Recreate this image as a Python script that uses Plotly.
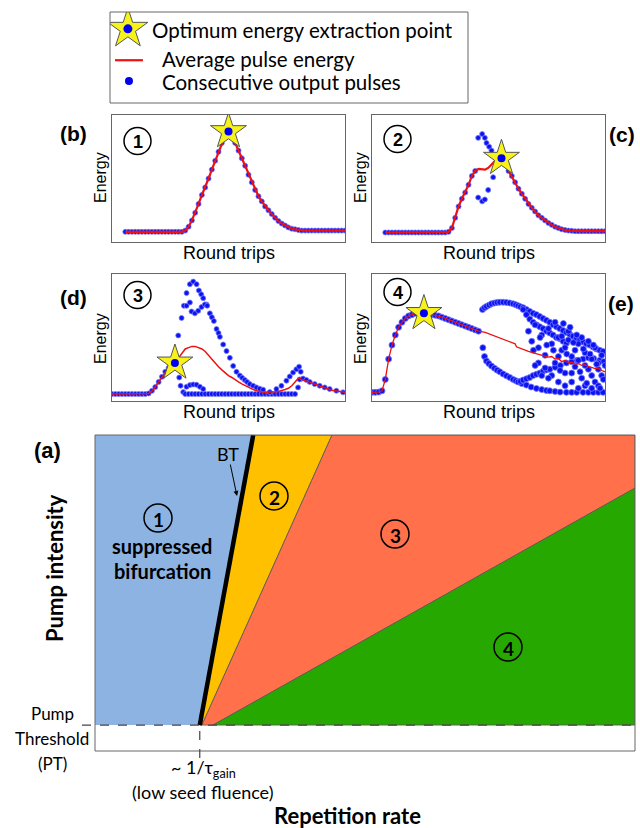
import plotly.graph_objects as go

W, H = 640, 828

# ---------------- data ----------------
# Panel (b): regime 1, consecutive pulses (x = round trip, y = energy a.u.)
b_x = list(range(4, 71))
b_y = [0.08] * 18 + [0.09, 0.12, 0.17, 0.23, 0.30, 0.37, 0.43, 0.50, 0.57, 0.64, 0.71, 0.78, 0.84, 0.87,
                     0.83, 0.78, 0.72, 0.66, 0.60, 0.53, 0.47, 0.41, 0.36, 0.32, 0.28, 0.25, 0.22, 0.19,
                     0.165, 0.145, 0.13, 0.115, 0.105, 0.10, 0.095] + [0.09] * 14
b_avg = b_y
b_star = (35, 0.87)

# Panel (c): regime 2
c_x = list(range(4, 32)) + [31.9, 33.1, 33.9, 34.4, 35.2, 35.9, 31.9, 33.1, 33.9, 34.9, 36.4, 37.5] + list(range(39, 71))
c_y = ([0.075] * 19 + [0.08, 0.11, 0.19, 0.28, 0.34, 0.39, 0.45, 0.52, 0.56]
       + [0.82, 0.85, 0.82, 0.78, 0.75, 0.72, 0.35, 0.32, 0.335, 0.41, 0.51, 0.68]
       + [0.65, 0.61, 0.56, 0.52, 0.47, 0.42, 0.38, 0.34, 0.30, 0.27, 0.24, 0.21, 0.19, 0.17, 0.15,
          0.135, 0.12, 0.11, 0.10, 0.095, 0.09, 0.088] + [0.085] * 10)
c_avg_x = list(range(4, 71))
c_avg = ([0.075] * 19 + [0.08, 0.11, 0.19, 0.28, 0.34, 0.39, 0.45, 0.52, 0.56]
         + [0.575, 0.57, 0.57, 0.585, 0.615, 0.64, 0.66]
         + [0.65, 0.61, 0.56, 0.52, 0.47, 0.42, 0.38, 0.34, 0.30, 0.27, 0.24, 0.21, 0.19, 0.17, 0.15,
            0.135, 0.12, 0.11, 0.10, 0.095, 0.09, 0.088] + [0.085] * 10)
c_star = (38.9, 0.66)

# Panel (d): regime 3
d_avg_x = list(range(0, 71))
d_avg = ([0.055] * 11 + [0.06, 0.08, 0.11, 0.15, 0.19, 0.23, 0.26, 0.28, 0.30, 0.34, 0.38, 0.41, 0.42, 0.43,
                          0.43, 0.42, 0.41, 0.39, 0.36, 0.325, 0.30, 0.27, 0.245, 0.22, 0.20, 0.185, 0.165,
                          0.15, 0.135, 0.12, 0.105, 0.095, 0.085, 0.075, 0.07, 0.068, 0.068, 0.07, 0.072,
                          0.075, 0.08, 0.09, 0.10, 0.12, 0.15, 0.18, 0.17, 0.16, 0.15, 0.14, 0.13, 0.12,
                          0.11, 0.10, 0.09, 0.085, 0.08, 0.075, 0.07, 0.068])
d_main_x = list(range(0, 19))
d_main_y = [0.055] * 11 + [0.06, 0.08, 0.11, 0.15, 0.19, 0.23, 0.26, 0.28]
d_up_x = [19.9, 20.9, 21.6, 22.4, 23.4, 24.4, 25.4, 26.1, 26.8, 27.4, 28.4, 29.4, 30.0, 30.6, 31.4, 32.0,
          32.4, 33.4, 34.4, 35.4, 36.4, 37.4, 38.4, 39.1, 39.9, 40.6, 41.4, 42.4, 43.4, 44.4, 45.4]
d_up_y = [0.516, 0.654, 0.75, 0.85, 0.92, 0.94, 0.92, 0.87, 0.84, 0.81, 0.76, 0.69, 0.66, 0.63, 0.567,
          0.535, 0.505, 0.445, 0.393, 0.34, 0.276, 0.23, 0.20, 0.183, 0.166, 0.15, 0.133, 0.12, 0.107,
          0.097, 0.089]
d_loop_x = [22.4, 23.4, 23.9, 24.9, 25.9, 26.9, 27.9, 28.6]
d_loop_y = [0.75, 0.776, 0.705, 0.69, 0.71, 0.74, 0.76, 0.75]
d_low_x = [20.2, 20.6, 21.4, 22.4, 23.4, 24.4, 25.4, 26.4, 27.4] + list(range(22, 56))
d_low_y = [0.185, 0.12, 0.07, 0.112, 0.125, 0.13, 0.128, 0.112, 0.094] + [0.055] * 34
d_late_x = [47.4, 49.4, 50.9, 52.4, 53.4, 54.4, 55.4, 56.2, 56.7, 55.9, 56.4, 57.4, 58.4, 59.4, 60.9,
            62.4, 63.9, 65.4, 67.4, 69.4]
d_late_y = [0.07, 0.094, 0.12, 0.16, 0.193, 0.224, 0.25, 0.27, 0.23, 0.107, 0.17, 0.177, 0.166, 0.15,
            0.133, 0.12, 0.107, 0.094, 0.081, 0.068]
d_star = (18.9, 0.30)

# Panel (e): regime 4
e_main_x = list(range(0, 33))
e_main_y = [0.068, 0.068, 0.07, 0.08, 0.17, 0.33, 0.44, 0.52, 0.58, 0.62, 0.65, 0.67, 0.68, 0.69, 0.69,
            0.69, 0.69, 0.685, 0.68, 0.675, 0.67, 0.66, 0.65, 0.64, 0.63, 0.62, 0.61, 0.60, 0.59, 0.58,
            0.57, 0.56, 0.55]
e_avg_x = e_main_x + [34, 36, 38, 40, 42, 43, 43.4, 45, 47, 49, 51, 53, 54, 55, 56, 57, 58, 59, 60, 61,
                      62, 63, 64, 65, 66, 67, 68, 69, 70]
e_avg_y = e_main_y + [0.54, 0.52, 0.50, 0.48, 0.46, 0.45, 0.427, 0.41, 0.39, 0.375, 0.36, 0.345, 0.35,
                      0.33, 0.335, 0.31, 0.32, 0.30, 0.305, 0.29, 0.295, 0.28, 0.285, 0.27, 0.265,
                      0.255, 0.26, 0.24, 0.23]
e_up_x = [33.2, 33.8, 34.4, 35.2, 35.9, 36.8, 37.6, 38.4, 39.4, 40.4, 41.4, 42.4, 43.2, 43.9, 44.6, 45.4,
          46.4, 47.4, 48.4, 49.4, 50.4, 51.4, 52.4, 53.4, 54.4, 55.4, 56.4, 57.4, 58.4, 59.4, 60.4, 61.4,
          62.4, 63.4, 64.4, 65.4, 66.4, 67.4, 68.4, 69.4]
e_up_y = [0.72, 0.735, 0.745, 0.755, 0.766, 0.772, 0.776, 0.778, 0.778, 0.776, 0.772, 0.765, 0.758, 0.75,
          0.742, 0.735, 0.72, 0.705, 0.69, 0.68, 0.665, 0.65, 0.635, 0.62, 0.60, 0.585, 0.57, 0.555, 0.54,
          0.525, 0.51, 0.495, 0.48, 0.465, 0.45, 0.44, 0.425, 0.41, 0.40, 0.39]
e_low_x = [33.3, 33.8, 34.4, 35.1, 35.9, 36.8, 37.6, 38.4, 39.4, 40.4, 41.4, 42.4, 43.2, 43.9, 45.0,
           46.4, 47.8, 49.4, 51.0, 52.4, 53.4, 55.0, 56.5, 58.4, 60.0, 61.5, 63.4, 65.0, 66.5, 68.0, 69.4]
e_low_y = [0.42, 0.35, 0.315, 0.295, 0.276, 0.258, 0.243, 0.23, 0.213, 0.198, 0.185, 0.17, 0.16, 0.15,
           0.137, 0.125, 0.11, 0.099, 0.09, 0.083, 0.08, 0.075, 0.07, 0.068, 0.068, 0.068, 0.068, 0.068,
           0.068, 0.068, 0.068]
e_br_x = [44.6, 45.4, 46.4, 47.4, 48.4, 49.4, 50.4, 51.4, 52.4, 53.4, 55.0, 56.6, 58.4, 60.0, 61.6, 63.4,
          65.0, 66.6, 68.4, 69.6]
e_br_y = [0.155, 0.165, 0.175, 0.185, 0.20, 0.21, 0.22, 0.235, 0.245, 0.25, 0.265, 0.28, 0.30, 0.31,
          0.32, 0.33, 0.34, 0.335, 0.32, 0.31]
e_br2_x = [45.4, 46.4, 47.4, 48.4, 49.4, 50.4, 51.4, 52.4, 53.4, 54.4, 55.4, 56.4, 57.4, 58.4]
e_br2_y = [0.72, 0.68, 0.645, 0.62, 0.60, 0.585, 0.57, 0.55, 0.535, 0.52, 0.50, 0.49, 0.47, 0.455]
e_chaos_x = [47, 48, 49, 50, 51, 52, 53, 54, 55, 56, 57, 58, 59, 60, 61, 62, 63, 64, 65, 66, 67, 68, 69,
             50, 52, 54, 56, 58, 60, 62, 64, 66, 68, 55, 57, 59, 61, 63, 65, 67, 69, 53, 51, 49, 60, 64,
             66, 68, 70, 56, 58, 62, 59.5, 61.5, 63.5, 65.5, 67.5, 69.5, 54.5, 57.5, 50.5, 48.5, 52.5,
             62.5, 64.5, 66.5, 68.5, 60.5, 58.5, 56.5]
e_chaos_y = [0.55, 0.47, 0.60, 0.42, 0.52, 0.36, 0.57, 0.45, 0.30, 0.50, 0.40, 0.22, 0.48, 0.35, 0.27,
             0.45, 0.18, 0.38, 0.25, 0.33, 0.15, 0.30, 0.20, 0.30, 0.26, 0.20, 0.15, 0.12, 0.15, 0.10,
             0.12, 0.10, 0.12, 0.62, 0.51, 0.55, 0.40, 0.50, 0.47, 0.42, 0.36, 0.18, 0.20, 0.28, 0.22,
             0.28, 0.20, 0.25, 0.28, 0.35, 0.42, 0.32, 0.58, 0.52, 0.41, 0.37, 0.29, 0.17, 0.40, 0.61,
             0.50, 0.40, 0.44, 0.23, 0.14, 0.44, 0.10, 0.46, 0.37, 0.24]
e_star = (15.6, 0.69)

# Panel (a): phase diagram (x = repetition rate, y = pump intensity, arbitrary units)
pt_level = 0.082
inv_tau_gain = 0.194
blue_x = [0, 0.194, 0.293, 0, 0]
blue_y = [0.082, 0.082, 1, 1, 0.082]
yellow_x = [0.194, 0.293, 0.439, 0.198, 0.194]
yellow_y = [0.082, 1, 1, 0.082, 0.082]
red_x = [0.198, 0.439, 1, 1, 0.2185, 0.198]
red_y = [0.082, 1, 1, 0.832, 0.082, 0.082]
green_x = [0.2185, 1, 1, 0.2185]
green_y = [0.082, 0.832, 0.082, 0.082]
bt_x = [0.194, 0.293]
bt_y = [0.082, 1]

BLUE_DOT = "#0a14f0"
DOT_LINE = "#7878ff"
RED = "#ee1111"
STAR_YELLOW = "#f7f21a"

ARIAL = "Liberation Sans, Arial, sans-serif"
CAL = "Lato, Calibri, sans-serif"


def px(x):
    return x / W


def py(y):
    return 1 - y / H


fig = go.Figure()

# panel geometry (window pixels) -> axes domains
panels = {
    "2": (112, 345, 115, 242),  # b
    "3": (372, 605, 115, 242),  # c
    "4": (112, 345, 274, 401),  # d
    "5": (372, 605, 274, 401),  # e
}

layout_axes = {}
for k, (l, r, t, b) in panels.items():
    layout_axes[f"xaxis{k}"] = dict(domain=[px(l), px(r)], range=[0, 70], anchor=f"y{k}",
                                    showgrid=False, zeroline=False, showticklabels=False, ticks="",
                                    showline=True, linecolor="#666", linewidth=1, mirror=True)
    layout_axes[f"yaxis{k}"] = dict(domain=[py(b), py(t)], range=[0, 1], anchor=f"x{k}",
                                    showgrid=False, zeroline=False, showticklabels=False, ticks="",
                                    showline=True, linecolor="#666", linewidth=1, mirror=True)

# legend axis
layout_axes["xaxis"] = dict(domain=[px(110), px(468)], range=[0, 1], anchor="y", visible=False)
layout_axes["yaxis"] = dict(domain=[py(103), py(12)], range=[0, 1], anchor="x", visible=False)
# phase-diagram axis
layout_axes["xaxis6"] = dict(domain=[px(95), px(635)], range=[0, 1], anchor="y6", showgrid=False,
                             zeroline=False, showticklabels=False, ticks="", showline=False)
layout_axes["yaxis6"] = dict(domain=[py(751), py(435)], range=[0, 1], anchor="x6", showgrid=False,
                             zeroline=False, showticklabels=False, ticks="", showline=False)


def dots(x, y, ax, size=5):
    fig.add_trace(go.Scatter(x=x, y=y, mode="markers", xaxis="x" + ax, yaxis="y" + ax,
                             marker=dict(color=BLUE_DOT, size=size, line=dict(color=DOT_LINE, width=0.8)),
                             showlegend=False, hoverinfo="skip"))


def avg(x, y, ax, width=2.2):
    fig.add_trace(go.Scatter(x=x, y=y, mode="lines", xaxis="x" + ax, yaxis="y" + ax,
                             line=dict(color=RED, width=width), showlegend=False, hoverinfo="skip"))


def star(pt, ax):
    fig.add_trace(go.Scatter(x=[pt[0]], y=[pt[1]], mode="markers", xaxis="x" + ax, yaxis="y" + ax,
                             marker=dict(symbol="star", size=27, color=STAR_YELLOW,
                                         line=dict(color="#555", width=1)),
                             showlegend=False, hoverinfo="skip"))
    fig.add_trace(go.Scatter(x=[pt[0]], y=[pt[1]], mode="markers", xaxis="x" + ax, yaxis="y" + ax,
                             marker=dict(size=8, color="#0000ee"), showlegend=False, hoverinfo="skip"))


# panel b
dots(b_x, b_y, "2")
avg(b_x, b_avg, "2")
star(b_star, "2")
# panel c
dots(c_x, c_y, "3")
avg(c_avg_x, c_avg, "3")
star(c_star, "3")
# panel d
dots(d_main_x, d_main_y, "4")
dots(d_up_x, d_up_y, "4")
dots(d_loop_x, d_loop_y, "4")
dots(d_low_x, d_low_y, "4")
dots(d_late_x, d_late_y, "4")
avg(d_avg_x, d_avg, "4", 1.5)
star(d_star, "4")
# panel e
dots(e_main_x, e_main_y, "5", 6)
dots(e_up_x, e_up_y, "5", 6)
dots(e_low_x, e_low_y, "5", 6)
dots(e_br_x, e_br_y, "5", 6)
dots(e_br2_x, e_br2_y, "5", 6)
dots(e_chaos_x, e_chaos_y, "5", 6)
avg(e_avg_x, e_avg_y, "5", 1.3)
star(e_star, "5")

# phase diagram polygons
for xs, ys, col, lc in [(blue_x, blue_y, "#8db3e2", "rgba(0,0,0,0)"),
                        (yellow_x, yellow_y, "#ffc000", "#555"),
                        (red_x, red_y, "#ff704b", "#555"),
                        (green_x, green_y, "#27a800", "#555")]:
    fig.add_trace(go.Scatter(x=xs, y=ys, mode="lines", fill="toself", fillcolor=col,
                             line=dict(color=lc, width=0.8), xaxis="x6", yaxis="y6",
                             showlegend=False, hoverinfo="skip"))
fig.add_trace(go.Scatter(x=bt_x, y=bt_y, mode="lines", line=dict(color="black", width=4.5),
                         xaxis="x6", yaxis="y6", showlegend=False, hoverinfo="skip"))

# legend marks
fig.add_trace(go.Scatter(x=[0.05], y=[0.815], mode="markers", xaxis="x", yaxis="y",
                         marker=dict(symbol="star", size=30, color=STAR_YELLOW, line=dict(color="#555", width=1)),
                         showlegend=False, hoverinfo="skip"))
fig.add_trace(go.Scatter(x=[0.05], y=[0.815], mode="markers", xaxis="x", yaxis="y",
                         marker=dict(size=9, color="#0000ee"), showlegend=False, hoverinfo="skip"))
fig.add_trace(go.Scatter(x=[0.014, 0.092], y=[0.47, 0.47], mode="lines", xaxis="x", yaxis="y",
                         line=dict(color=RED, width=2.2), showlegend=False, hoverinfo="skip"))
fig.add_trace(go.Scatter(x=[0.053], y=[0.242], mode="markers", xaxis="x", yaxis="y",
                         marker=dict(size=8, color="#0000ee"), showlegend=False, hoverinfo="skip"))

shapes = []
# legend box
shapes.append(dict(type="rect", xref="paper", yref="paper", x0=px(110), x1=px(468), y0=py(103), y1=py(12),
                   line=dict(color="#666", width=1)))
# phase diagram frame
shapes.append(dict(type="rect", xref="x6 domain", yref="y6 domain", x0=0, x1=1, y0=0, y1=1,
                   line=dict(color="#666", width=1), layer="above"))
# PT dashed line and 1/tau dashed line
shapes.append(dict(type="line", xref="paper", yref="y6", x0=px(82), x1=px(635), y0=pt_level, y1=pt_level,
                   line=dict(color="#444", width=1.2, dash="dash"), layer="above"))
shapes.append(dict(type="line", xref="x6", yref="paper", x0=inv_tau_gain, x1=inv_tau_gain,
                   y0=py(758), y1=py(725), line=dict(color="#444", width=1.2, dash="dash"), layer="above"))


def circ(cx, cy, d, lw=1.5):
    shapes.append(dict(type="circle", xref="paper", yref="paper", x0=px(cx - d / 2), x1=px(cx + d / 2),
                       y0=py(cy + d / 2), y1=py(cy - d / 2), line=dict(color="black", width=lw), layer="above"))


ann = []


def txt(x, y, s, size, bold=False, family=ARIAL, angle=0, xanchor="center", color="black"):
    if bold:
        s = "<b>" + s + "</b>"
    ann.append(dict(x=px(x), y=py(y), xref="paper", yref="paper", text=s, showarrow=False,
                    font=dict(size=size, family=family, color=color), textangle=angle,
                    xanchor=xanchor, yanchor="middle"))


# small panels: circles with numbers
for (cx, cy, n) in [(137.5, 141, "1"), (397.5, 139, "2"), (137.5, 295, "3"), (397.5, 292, "4")]:
    circ(cx, cy, 27)
    txt(cx, cy + 1, n, 18, bold=True)

# big panel circles
for (cx, cy, n) in [(158, 518, "1"), (274, 496, "2"), (395, 534, "3"), (508, 647, "4")]:
    circ(cx, cy, 28)
    txt(cx, cy + 1, n, 19, bold=True, family=CAL)

# panel labels
txt(73, 133, "(b)", 21, bold=True)
txt(622, 134, "(c)", 21, bold=True)
txt(73, 297, "(d)", 21, bold=True)
txt(621, 303, "(e)", 21, bold=True)
txt(47, 450, "(a)", 22, bold=True)

# small axes labels
for (cx, cy) in [(100, 178), (360, 178), (100, 339), (360, 339)]:
    txt(cx, cy, "Energy", 16, angle=-90)
for (cx, cy) in [(228.5, 253), (488.5, 253), (228.5, 412), (488.5, 412)]:
    txt(cx, cy, "Round trips", 18)

# legend texts
txt(150, 30, "Optimum energy extraction point", 20.5, family=CAL, xanchor="left")
txt(160, 59, "Average pulse energy", 20.5, family=CAL, xanchor="left")
txt(160, 82, "Consecutive output pulses", 20.5, family=CAL, xanchor="left")

# panel a texts
txt(54, 568, "Pump intensity", 22, bold=True, family=CAL, angle=-90)
txt(347, 815, "Repetition rate", 22, bold=True, family=CAL)
txt(162, 546, "suppressed", 20, bold=True, family=CAL)
txt(162, 571, "bifurcation", 20, bold=True, family=CAL)
txt(228, 454, "BT", 18, family=CAL)
txt(52, 713, "Pump", 17, family=CAL)
txt(52, 738, "Threshold", 17, family=CAL)
txt(52, 763, "(PT)", 17, family=CAL)
txt(203, 768, "~ 1/τ<sub>gain</sub>", 18, family=CAL)
txt(203, 792, "(low seed fluence)", 18, family=CAL)

# BT arrow (head at 237,496; tail offset in pixels)
ann.append(dict(x=px(237), y=py(496), xref="paper", yref="paper", ax=-7, ay=-33,
                text="", showarrow=True, arrowhead=2, arrowsize=1,
                arrowwidth=1, arrowcolor="black"))

fig.update_layout(width=W, height=H, margin=dict(l=0, r=0, t=0, b=0),
                  paper_bgcolor="white", plot_bgcolor="white",
                  shapes=shapes, annotations=ann, showlegend=False, **layout_axes)

fig.write_html("out.html", config={"displayModeBar": False},
               post_script="document.body.style.margin='0px';document.body.style.overflow='hidden';")
